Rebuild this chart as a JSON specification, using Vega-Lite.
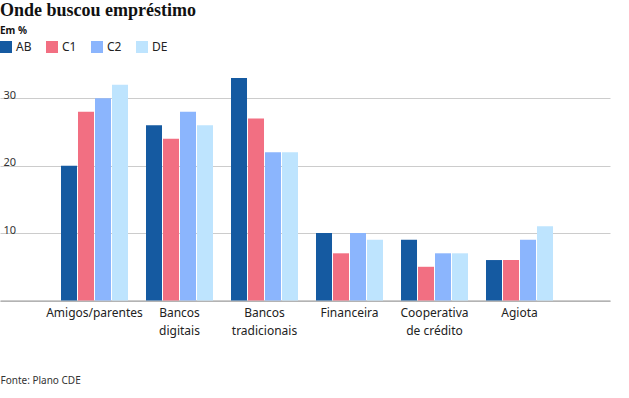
{
  "$schema": "https://vega.github.io/schema/vega-lite/v6.json",
  "width": 629,
  "height": 222.5,
  "autosize": {"type": "none"},
  "padding": {"left": 0, "top": 78, "right": 0, "bottom": 97.5},
  "background": "white",
  "title": {
    "text": "Onde buscou empréstimo",
    "subtitle": "Em %",
    "anchor": "start",
    "frame": "group",
    "orient": "top",
    "offset": 5,
    "font": "Liberation Serif",
    "fontSize": 18,
    "fontWeight": "bold",
    "color": "#111111",
    "subtitleFont": "Noto Sans",
    "subtitleFontSize": 10,
    "subtitleFontWeight": "bold",
    "subtitleColor": "#111111",
    "subtitlePadding": 6
  },
  "data": {
    "values": [
      {"categoria": "Amigos/parentes", "classe": "AB", "valor": 20},
      {"categoria": "Amigos/parentes", "classe": "C1", "valor": 28},
      {"categoria": "Amigos/parentes", "classe": "C2", "valor": 30},
      {"categoria": "Amigos/parentes", "classe": "DE", "valor": 32},
      {"categoria": "Bancos digitais", "classe": "AB", "valor": 26},
      {"categoria": "Bancos digitais", "classe": "C1", "valor": 24},
      {"categoria": "Bancos digitais", "classe": "C2", "valor": 28},
      {"categoria": "Bancos digitais", "classe": "DE", "valor": 26},
      {"categoria": "Bancos tradicionais", "classe": "AB", "valor": 33},
      {"categoria": "Bancos tradicionais", "classe": "C1", "valor": 27},
      {"categoria": "Bancos tradicionais", "classe": "C2", "valor": 22},
      {"categoria": "Bancos tradicionais", "classe": "DE", "valor": 22},
      {"categoria": "Financeira", "classe": "AB", "valor": 10},
      {"categoria": "Financeira", "classe": "C1", "valor": 7},
      {"categoria": "Financeira", "classe": "C2", "valor": 10},
      {"categoria": "Financeira", "classe": "DE", "valor": 9},
      {"categoria": "Cooperativa de crédito", "classe": "AB", "valor": 9},
      {"categoria": "Cooperativa de crédito", "classe": "C1", "valor": 5},
      {"categoria": "Cooperativa de crédito", "classe": "C2", "valor": 7},
      {"categoria": "Cooperativa de crédito", "classe": "DE", "valor": 7},
      {"categoria": "Agiota", "classe": "AB", "valor": 6},
      {"categoria": "Agiota", "classe": "C1", "valor": 6},
      {"categoria": "Agiota", "classe": "C2", "valor": 9},
      {"categoria": "Agiota", "classe": "DE", "valor": 11}
    ]
  },
  "mark": {"type": "bar"},
  "encoding": {
    "x": {
      "field": "categoria",
      "type": "nominal",
      "sort": null,
      "scale": {"range": [0, 610], "paddingInner": 0.2118, "paddingOuter": 0.694, "align": 0.517},
      "axis": {
        "title": "Fonte: Plano CDE",
        "titleFont": "Noto Sans",
        "titleFontSize": 10,
        "titleFontWeight": "normal",
        "titleColor": "#333333",
        "titleAnchor": "start",
        "titleAlign": "left",
        "titleBaseline": "middle",
        "titleX": 0,
        "titleY": 80,
        "labelAngle": 0,
        "labelFont": "Noto Sans",
        "labelFontSize": 12,
        "labelColor": "#222222",
        "labelBaseline": "top",
        "labelPadding": 7,
        "labelLineHeight": 18,
        "labelExpr": "indexof(datum.label, ' ') > 0 ? [slice(datum.label, 0, indexof(datum.label, ' ')), slice(datum.label, indexof(datum.label, ' ') + 1)] : datum.label",
        "ticks": false,
        "domain": true,
        "domainColor": "#999999",
        "domainWidth": 1,
        "grid": false
      }
    },
    "xOffset": {
      "field": "classe",
      "type": "nominal",
      "scale": {"paddingInner": 0.0588, "paddingOuter": 0}
    },
    "y": {
      "field": "valor",
      "type": "quantitative",
      "scale": {"domain": [0, 33], "nice": false},
      "axis": {
        "title": null,
        "values": [0, 10, 20, 30],
        "labelExpr": "datum.value == 0 ? '' : datum.label",
        "labelFont": "Noto Sans",
        "labelFontSize": 11,
        "labelColor": "#333333",
        "labelAlign": "left",
        "labelBaseline": "alphabetic",
        "labelPadding": -3,
        "labelDy": -5,
        "ticks": false,
        "tickSize": 0,
        "domain": false,
        "grid": true,
        "gridColor": "#cccccc",
        "gridWidth": 1
      }
    },
    "color": {
      "field": "classe",
      "type": "nominal",
      "scale": {"domain": ["AB", "C1", "C2", "DE"], "range": ["#155AA1", "#F26F82", "#8BB5FD", "#BEE4FE"]},
      "legend": {
        "title": null,
        "orient": "none",
        "legendX": 0,
        "legendY": -37,
        "direction": "horizontal",
        "symbolType": "square",
        "symbolSize": 144,
        "symbolStrokeWidth": 0,
        "symbolOpacity": 1,
        "labelFont": "Noto Sans",
        "labelFontSize": 12,
        "labelColor": "#222222",
        "labelOffset": 4,
        "columnPadding": 14
      }
    }
  },
  "config": {"view": {"stroke": null}}
}
